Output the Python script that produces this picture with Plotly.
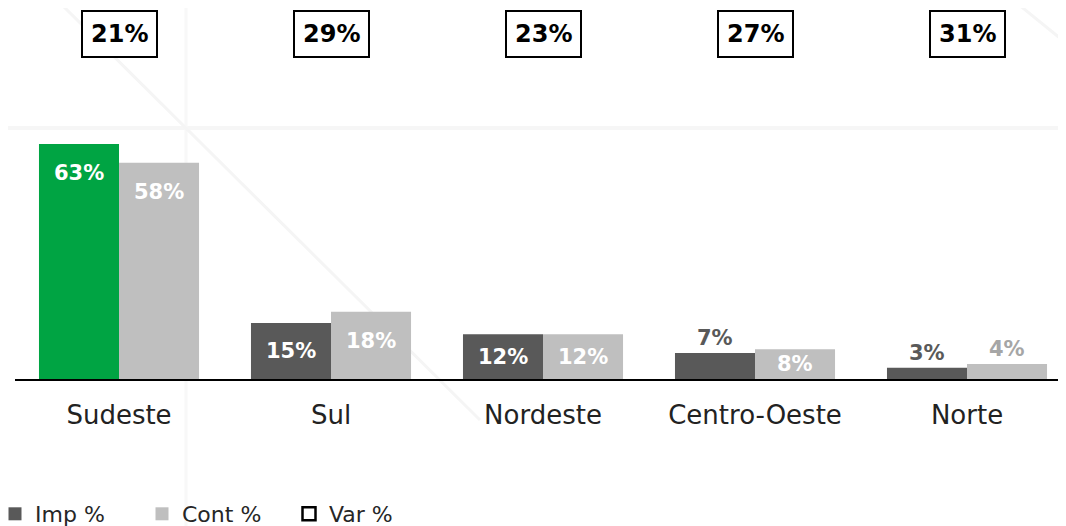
import plotly.graph_objects as go

regions = ["Sudeste", "Sul", "Nordeste", "Centro-Oeste", "Norte"]
imp_pct = [63, 15, 12, 7, 3]
cont_pct = [58, 18, 12, 8, 4]
var_pct = [21, 29, 23, 27, 31]

GREEN = "#00A443"
DARK = "#595959"
LIGHT = "#BFBFBF"
FONT = "DejaVu Sans"

# page body adds an 8px margin, so the figure is sized to fit the window
W, H = 1058, 518
L, B = 7, 147
PW, PH = W - L, H - B

imp_colors = [GREEN] + [DARK] * (len(regions) - 1)

fig = go.Figure()

fig.add_trace(go.Bar(
    x=regions,
    y=imp_pct,
    name="Imp %",
    showlegend=False,
    marker=dict(color=imp_colors, line=dict(width=0)),
    hoverinfo="skip"
))

fig.add_trace(go.Bar(
    x=regions,
    y=cont_pct,
    name="Cont %",
    showlegend=False,
    marker=dict(color=LIGHT, line=dict(width=0)),
    hoverinfo="skip"
))

# legend entries (square swatches like the source chart)
for name, sym, col in [("Imp %", "square", DARK),
                       ("Cont %", "square", LIGHT),
                       ("Var %", "square-open", "black")]:
    fig.add_trace(go.Scatter(
        x=[None],
        y=[None],
        mode="markers",
        name=name,
        marker=dict(symbol=sym, size=13, color=col,
                    line=dict(width=2.5 if sym == "square-open" else 0,
                              color=col))
    ))

annotations = []


def bar_label(x, v, shift, out_color):
    if v < 7.5:
        return dict(x=x, y=v, xshift=shift, yshift=15, showarrow=False,
                    text=f"<b>{v}%</b>", yanchor="middle",
                    font=dict(family=FONT, size=21, color=out_color))
    return dict(x=x, y=max(v - 7.8, v / 2), xshift=shift, showarrow=False,
                text=f"<b>{v}%</b>", yanchor="middle",
                font=dict(family=FONT, size=21, color="white"))


for r, a, b in zip(regions, imp_pct, cont_pct):
    annotations.append(bar_label(r, a, -40, DARK))
    annotations.append(bar_label(r, b, 40, "#A6A6A6"))

for r, v in zip(regions, var_pct):
    annotations.append(dict(
        x=r, y=1 - 26 / PH, yref="paper", yanchor="middle", showarrow=False,
        text=f"<b>{v}%</b>",
        font=dict(family=FONT, size=24, color="black"),
        bordercolor="black", borderwidth=2, borderpad=8,
        bgcolor="white"
    ))


def px(x, y):
    return (x - L) / PW, (PH - y) / PH


# faint watermark strokes in the background
wm = [
    ((-20, 120), (W + 20, 120), "#F6F6F6", 4),
    ((178, -8), (178, H), "#F8F8F8", 3),
    ((49, -8), (472, 412), "#F5F5F5", 3),
    ((1005, -8), (1058, 35), "#F5F5F5", 3),
]
shapes = []
for (a, b, col, w) in wm:
    x0, y0 = px(*a)
    x1, y1 = px(*b)
    shapes.append(dict(type="line", xref="paper", yref="paper",
                       x0=x0, y0=y0, x1=x1, y1=y1,
                       line=dict(color=col, width=w), layer="below"))

lx, ly = px(-13, 506)

fig.update_layout(
    width=W,
    height=H,
    paper_bgcolor="white",
    plot_bgcolor="rgba(0,0,0,0)",
    barmode="group",
    bargap=0.245,
    bargroupgap=0,
    margin=dict(l=L, r=0, t=0, b=B, autoexpand=False),
    showlegend=True,
    legend=dict(
        orientation="h",
        x=lx,
        y=ly,
        xanchor="left",
        yanchor="middle",
        bgcolor="rgba(0,0,0,0)",
        font=dict(family=FONT, size=22, color="#262626"),
        entrywidth=102,
        itemwidth=30,
        traceorder="normal"
    ),
    xaxis=dict(
        range=[-0.4906, -0.4906 + PW / 212],
        showgrid=False,
        showline=True,
        linecolor="black",
        linewidth=2,
        ticks="outside",
        ticklen=12,
        tickcolor="rgba(0,0,0,0)",
        tickfont=dict(family=FONT, size=26, color="#222222"),
        fixedrange=True
    ),
    yaxis=dict(
        range=[0, PH / 3.73],
        visible=False,
        fixedrange=True
    ),
    annotations=annotations,
    shapes=shapes
)

fig.write_html("out.html")
